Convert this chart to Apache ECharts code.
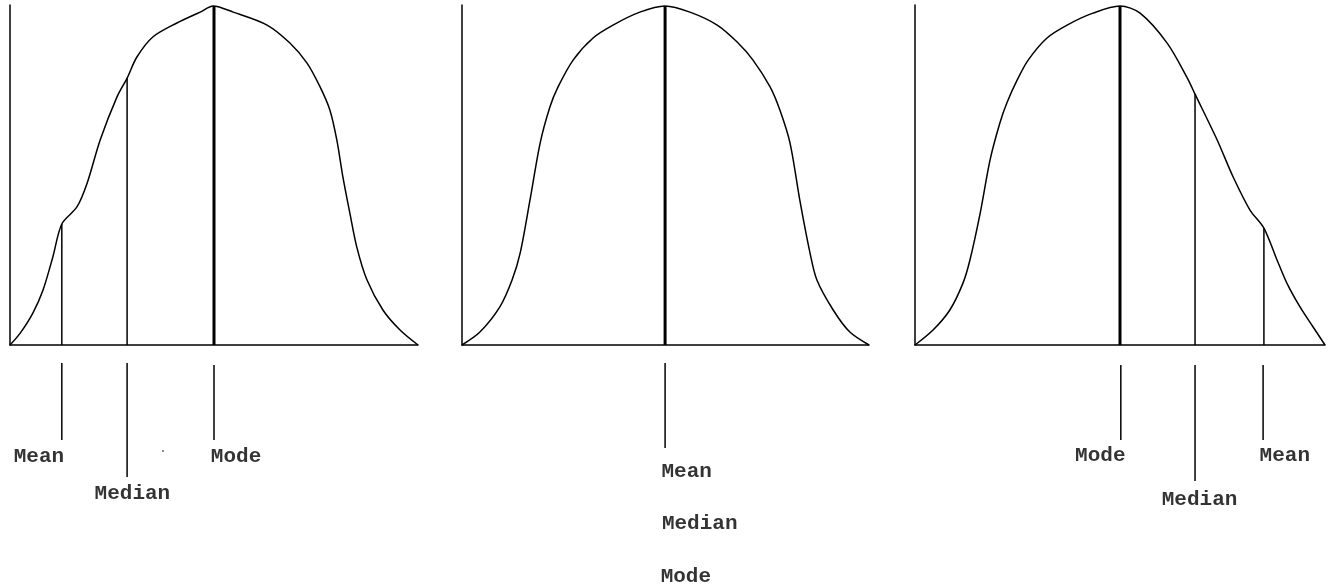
<!DOCTYPE html>
<html lang="en">
<head>
  <meta charset="UTF-8">
  <title>Mean Median Mode</title>
  <style>
    html, body { margin: 0; padding: 0; background: #fff; }
    #chart { width: 1330px; height: 588px; }
  </style>
</head>
<body>
  <div id="chart"></div>
<script src="https://cdn.jsdelivr.net/npm/echarts@6/dist/echarts.min.js"></script>
<script>
  // curves: [x, height], x runs 0-100 across a panel, height 0-100
  const skewLeftCurve = [
    [0, 0], [2.5, 3.5], [5.6, 9.4], [8.1, 16.2], [10.5, 25.9], [12.7, 35.6],
    [16.4, 40.6], [18.9, 47.6], [22.1, 60.3], [26.2, 72.9], [28.7, 78.5],
    [31.1, 84.7], [35.0, 90.6], [40.9, 94.7], [46.6, 97.9], [49.8, 99.7],
    [54.7, 97.9], [63.0, 94.1], [68.6, 88.8], [72.8, 82.9], [76.0, 75.9],
    [78.4, 69.1], [80.1, 60.3], [81.6, 49.4], [83.3, 38.8], [85.0, 28.8],
    [87.5, 19.1], [91.4, 10.3], [95.6, 4.4], [100, 0]
  ];
  const symmetricCurve = [
    [0, 0], [4.4, 3.8], [9.3, 11.2], [12.3, 19.1], [14.3, 27.1], [16.7, 42.6],
    [19.2, 59.4], [21.6, 70.0], [23.6, 75.9], [27.3, 83.8], [32.2, 90.3],
    [37.1, 94.1], [43.7, 97.9], [49.9, 99.7], [56.0, 97.9], [62.7, 94.1],
    [67.6, 89.1], [71.5, 83.8], [75.7, 75.9], [78.1, 69.1], [80.6, 59.4],
    [83.0, 42.6], [85.5, 27.1], [87.2, 19.1], [91.2, 10.3], [95.3, 3.8], [100, 0]
  ];
  const skewRightCurve = [
    [0, 0], [4.4, 4.4], [8.5, 10.3], [11.7, 18.2], [13.4, 25.0], [15.9, 38.8],
    [18.3, 54.4], [20.7, 65.3], [22.4, 71.2], [24.9, 77.9], [27.6, 83.8],
    [32.2, 90.3], [37.1, 94.1], [43.4, 97.6], [50.0, 99.7], [54.9, 97.6],
    [61.5, 88.8], [66.3, 78.8], [68.3, 73.8], [73.7, 60.3], [77.6, 49.4],
    [81.7, 39.7], [85.1, 34.4], [88.3, 25.0], [90.7, 18.2], [93.9, 11.2],
    [97.1, 5.3], [100, 0]
  ];

  // where each measure meets the curve: [name, x, height]
  const skewLeftMarks = [['Mean', 12.7, 35.6], ['Median', 28.7, 78.5], ['Mode', 50.0, 99.7]];
  const symmetricMarks = [['Mode', 49.9, 99.7]];
  const skewRightMarks = [['Mode', 50.0, 99.7], ['Median', 68.3, 73.8], ['Mean', 85.1, 34.4]];

  // pointers under the baseline: [x, from depth, to depth]
  const skewLeftPointers = [[12.7, 18, 95], [28.7, 18, 132], [50.0, 20, 95]];
  const symmetricPointers = [[49.9, 18, 103]];
  const skewRightPointers = [[50.2, 20, 95], [68.3, 20, 136], [84.9, 20, 95]];

  // labels: [text, x, depth]
  const skewLeftLabels = [['Mean', 7.1, 112], ['Median', 30.0, 149], ['Mode', 55.4, 112]];
  const symmetricLabels = [['Mean', 55.2, 127], ['Median', 58.4, 179], ['Mode', 55.0, 232]];
  const skewRightLabels = [['Mode', 45.2, 111], ['Median', 69.4, 155], ['Mean', 90.2, 111]];

  // little speck left in the first panel
  const strayDot = [[37.5, 106]];

  const panels = [
    { left: 10, width: 408, curve: skewLeftCurve, marks: skewLeftMarks, pointers: skewLeftPointers, labels: skewLeftLabels },
    { left: 462, width: 407, curve: symmetricCurve, marks: symmetricMarks, pointers: symmetricPointers, labels: symmetricLabels },
    { left: 915, width: 410, curve: skewRightCurve, marks: skewRightMarks, pointers: skewRightPointers, labels: skewRightLabels }
  ];

  let chart = echarts.init(document.getElementById('chart'));

  let grid = [], xAxis = [], yAxis = [], series = [];
  const axisLine = { show: true, onZero: false, lineStyle: { color: '#000', width: 1.5 } };
  const hidden = { axisTick: { show: false }, axisLabel: { show: false }, splitLine: { show: false } };

  panels.forEach(function (p, i) {
    let plot = i * 2, below = i * 2 + 1;
    grid.push({ left: p.left, width: p.width, top: 5, height: 340 });
    grid.push({ left: p.left, width: p.width, top: 345, height: 243 });

    xAxis.push(Object.assign({ type: 'value', gridIndex: plot, min: 0, max: 100, axisLine: axisLine }, hidden));
    yAxis.push(Object.assign({ type: 'value', gridIndex: plot, min: 0, max: 100, axisLine: axisLine }, hidden));
    xAxis.push(Object.assign({ type: 'value', gridIndex: below, min: 0, max: 100, axisLine: { show: false } }, hidden));
    yAxis.push(Object.assign({ type: 'value', gridIndex: below, min: 0, max: 243, inverse: true, axisLine: { show: false } }, hidden));

    series.push({
      type: 'line', xAxisIndex: plot, yAxisIndex: plot,
      data: p.curve, showSymbol: false, smooth: 0.3, clip: false,
      lineStyle: { color: '#000', width: 1.5 }
    });

    p.marks.forEach(function (m) {
      series.push({
        type: 'line', xAxisIndex: plot, yAxisIndex: plot, clip: false,
        data: [[m[1], 0], [m[1], m[2]]], showSymbol: false,
        lineStyle: { color: '#000', width: m[0] === 'Mode' ? 3 : 1.5 }
      });
    });

    p.pointers.forEach(function (t) {
      series.push({
        type: 'line', xAxisIndex: below, yAxisIndex: below,
        data: [[t[0], t[1]], [t[0], t[2]]], showSymbol: false,
        lineStyle: { color: '#000', width: 1.5 }
      });
    });

    series.push({
      type: 'scatter', xAxisIndex: below, yAxisIndex: below,
      symbolSize: 0,
      data: p.labels.map(function (l) { return { value: [l[1], l[2]], name: l[0] }; }),
      label: {
        show: true, position: 'inside', formatter: '{b}',
        color: '#000', fontFamily: 'Liberation Mono', fontWeight: 'bold', fontSize: 21
      }
    });
  });

  series.push({
    type: 'scatter', xAxisIndex: 1, yAxisIndex: 1,
    data: strayDot, symbolSize: 2, itemStyle: { color: '#444' }
  });

  chart.setOption({
    animation: false,
    backgroundColor: '#fff',
    grid: grid,
    xAxis: xAxis,
    yAxis: yAxis,
    series: series
  });
</script>
</body>
</html>
